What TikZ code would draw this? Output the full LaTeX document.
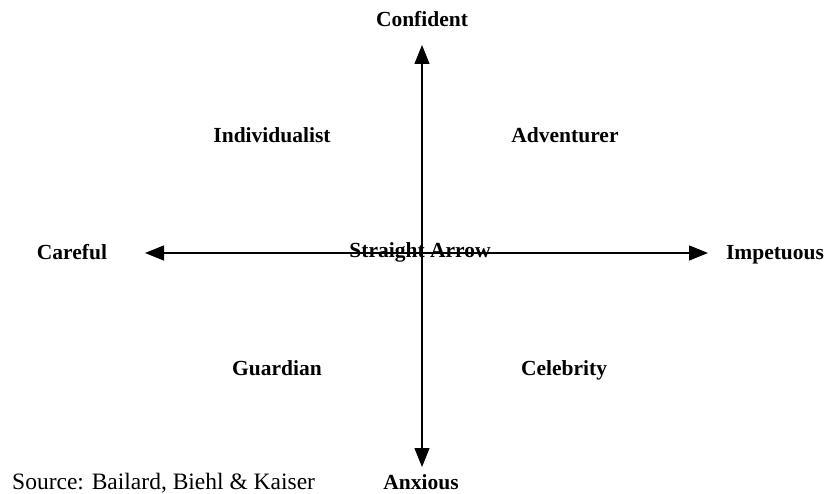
\documentclass[tikz,border=0pt]{standalone}
\usepackage{fontspec}
\setmainfont{Liberation Serif}
\usepackage{tikz}
\usetikzlibrary{arrows.meta}

\begin{document}
\begin{tikzpicture}[x=1pt, y=-1pt,
    axis/.style={line width=1.3pt, {Triangle[length=19pt, width=15pt]}-{Triangle[length=19pt, width=15pt]}},
    label/.style={font=\fontsize{21.5}{24}\selectfont\bfseries, inner sep=0pt, anchor=base},
    source/.style={font=\fontsize{23.5}{26}\selectfont, inner sep=0pt, anchor=base west}]
\useasboundingbox (0, 0) rectangle (827, 494);
    \coordinate (top) at (422, 45);
    \coordinate (bottom) at (422, 467);
    \coordinate (left) at (145, 253);
    \coordinate (right) at (708, 253);
    \draw[axis] (bottom) to (top);
    \draw[axis] (left) to (right);
    \node[label] (confident) at (422, 27) {Confident};
    \node[label] (anxious) at (421, 489) {Anxious};
    \node[label] (careful) at (72, 260) {Careful};
    \node[label] (impetuous) at (775, 260) {Impetuous};
    \node[label] (individualist) at (272, 143) {Individualist};
    \node[label] (adventurer) at (565, 143) {Adventurer};
    \node[label] (guardian) at (277, 375) {Guardian};
    \node[label] (celebrity) at (564, 375) {Celebrity};
    \node[label] (straight) at (420, 258) {Straight Arrow};
    \node[source] (src) at (12, 489) {Source: Bailard, Biehl \& Kaiser};
\end{tikzpicture}
\end{document}
